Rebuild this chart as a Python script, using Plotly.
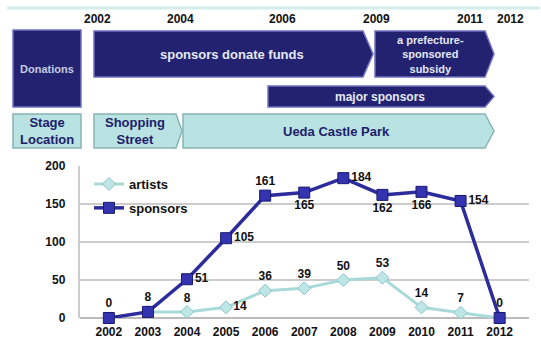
import plotly.graph_objects as go

years = ["2002", "2003", "2004", "2005", "2006", "2007", "2008", "2009", "2010", "2011", "2012"]
sponsors = [0, 8, 51, 105, 161, 165, 184, 162, 166, 154, 0]
artists = [None, 8, 8, 14, 36, 39, 50, 53, 14, 7, 0]
sponsor_pos = ["top center", "top center", "middle right", "middle right", "top center",
               "bottom center", "middle right", "bottom center", "bottom center", "middle right", "top center"]
artist_text = ["", "", "8", "14", "36", "39", "50", "53", "14", "7", ""]
artist_pos = ["top center", "top center", "top center", "middle right", "top center", "top center",
              "top center", "top center", "top center", "top center", "top center"]

timeline_years = ["2002", "2004", "2006", "2009", "2011", "2012"]
timeline_x = [97, 180, 282, 376, 470, 510]

W, H = 541, 340
def px(x): return x / W
def py(y): return 1 - y / H

FONT = "Liberation Sans"
NAVY = "#222270"
NAVY_EDGE = "#7070c0"
CYAN = "#b9e2e2"
CYAN_EDGE = "#88b4b4"

fig = go.Figure()
fig.add_trace(go.Scatter(
    x=years, y=artists, name="<b>artists</b>", mode="lines+markers+text", legendgroup="a",
    line=dict(color="#a9dada", width=3),
    marker=dict(symbol="diamond", size=10, color="#bfe6e6", line=dict(color="#8cc4c4", width=1)),
    text=["<b>%s</b>" % t if t else "" for t in artist_text], textposition=artist_pos,
    textfont=dict(family=FONT, size=12, color="#111"), cliponaxis=False))
fig.add_trace(go.Scatter(
    x=years, y=sponsors, name="<b>sponsors</b>", mode="lines+markers+text", legendgroup="b",
    line=dict(color="#2c2c9c", width=3.5),
    marker=dict(symbol="square", size=11, color="#3434b0", line=dict(color="#1a1a70", width=1)),
    text=["<b>%d</b>" % v for v in sponsors], textposition=sponsor_pos,
    textfont=dict(family=FONT, size=12, color="#111"), cliponaxis=False))

shapes = []
shapes.append(dict(type="line", xref="paper", yref="paper", x0=px(7), x1=px(540), y0=py(8), y1=py(8),
                   line=dict(color="#d4eeee", width=3)))

def rect(x0, y0, x1, y1, fill, edge):
    shapes.append(dict(type="rect", xref="paper", yref="paper", x0=px(x0), x1=px(x1), y0=py(y0), y1=py(y1),
                       fillcolor=fill, line=dict(color=edge, width=1.5), layer="above"))

def arrow(x0, y0, x1, y1, tip, fill, edge):
    ym = (y0 + y1) / 2
    path = "M %f,%f L %f,%f L %f,%f L %f,%f L %f,%f Z" % (
        px(x0), py(y0), px(x1), py(y0), px(tip), py(ym), px(x1), py(y1), px(x0), py(y1))
    shapes.append(dict(type="path", xref="paper", yref="paper", path=path,
                       fillcolor=fill, line=dict(color=edge, width=1.5), layer="above"))

rect(13, 30, 81, 107, NAVY, NAVY_EDGE)
arrow(94, 31, 363, 77, 373, NAVY, NAVY_EDGE)
arrow(375, 31, 485, 77, 494, NAVY, NAVY_EDGE)
arrow(268, 86, 485, 107, 494, NAVY, NAVY_EDGE)
rect(13, 114, 81, 148, CYAN, CYAN_EDGE)
arrow(94, 114, 176, 148, 182, CYAN, CYAN_EDGE)
arrow(183, 114, 485, 148, 494, CYAN, CYAN_EDGE)

annotations = []
def label(x, y, text, size, color):
    annotations.append(dict(xref="paper", yref="paper", x=px(x), y=py(y), text=text, showarrow=False,
                            font=dict(family=FONT, size=size, color=color), xanchor="center", yanchor="middle"))

for t, xx in zip(timeline_years, timeline_x):
    label(xx, 19, "<b>%s</b>" % t, 12, "#111")

label(47, 69, "<b>Donations</b>", 11, "#c4cce4")
label(232, 54, "<b>sponsors donate funds</b>", 13, "#e4e8f4")
label(430, 54, "<b>a prefecture-<br>sponsored<br>subsidy</b>", 11, "#e4e8f4")
label(380, 97, "<b>major sponsors</b>", 12, "#e4e8f4")
label(47, 131, "<b>Stage<br>Location</b>", 13, "#20206a")
label(135, 131, "<b>Shopping<br>Street</b>", 13, "#20206a")
label(336, 131, "<b>Ueda Castle Park</b>", 13, "#20206a")

fig.update_layout(
    width=W, height=H, margin=dict(l=0, r=0, t=0, b=0),
    paper_bgcolor="white", plot_bgcolor="white",
    shapes=shapes, annotations=annotations,
    showlegend=True,
    legend=dict(x=px(89), y=py(169), xanchor="left", yanchor="top", bgcolor="rgba(0,0,0,0)",
                font=dict(family=FONT, size=13, color="#111"), itemwidth=30, tracegroupgap=4,
                traceorder="grouped"),
    xaxis=dict(domain=[px(79.5), px(529)], type="category", showgrid=False, automargin=False,
               showline=False, ticks="outside", ticklen=3, tickcolor="rgba(0,0,0,0)",
               tickfont=dict(family=FONT, size=12, color="#111"),
               tickvals=years, ticktext=["<b>%s</b>" % y for y in years], fixedrange=True),
    yaxis=dict(domain=[(H - 318) / H, (H - 166) / H], range=[0, 200], tickvals=[0, 50, 100, 150, 200],
               ticktext=["<b>%d</b>" % v for v in [0, 50, 100, 150, 200]], automargin=False,
               showgrid=True, gridcolor="#cccccc", gridwidth=1.5, zeroline=True, zerolinecolor="#bbbbbb",
               zerolinewidth=1.5, showline=True, linecolor="#cccccc", linewidth=1.5,
               ticks="outside", ticklen=10, tickcolor="rgba(0,0,0,0)",
               tickfont=dict(family=FONT, size=12, color="#111"), fixedrange=True),
)

fig.write_html("out.html")
